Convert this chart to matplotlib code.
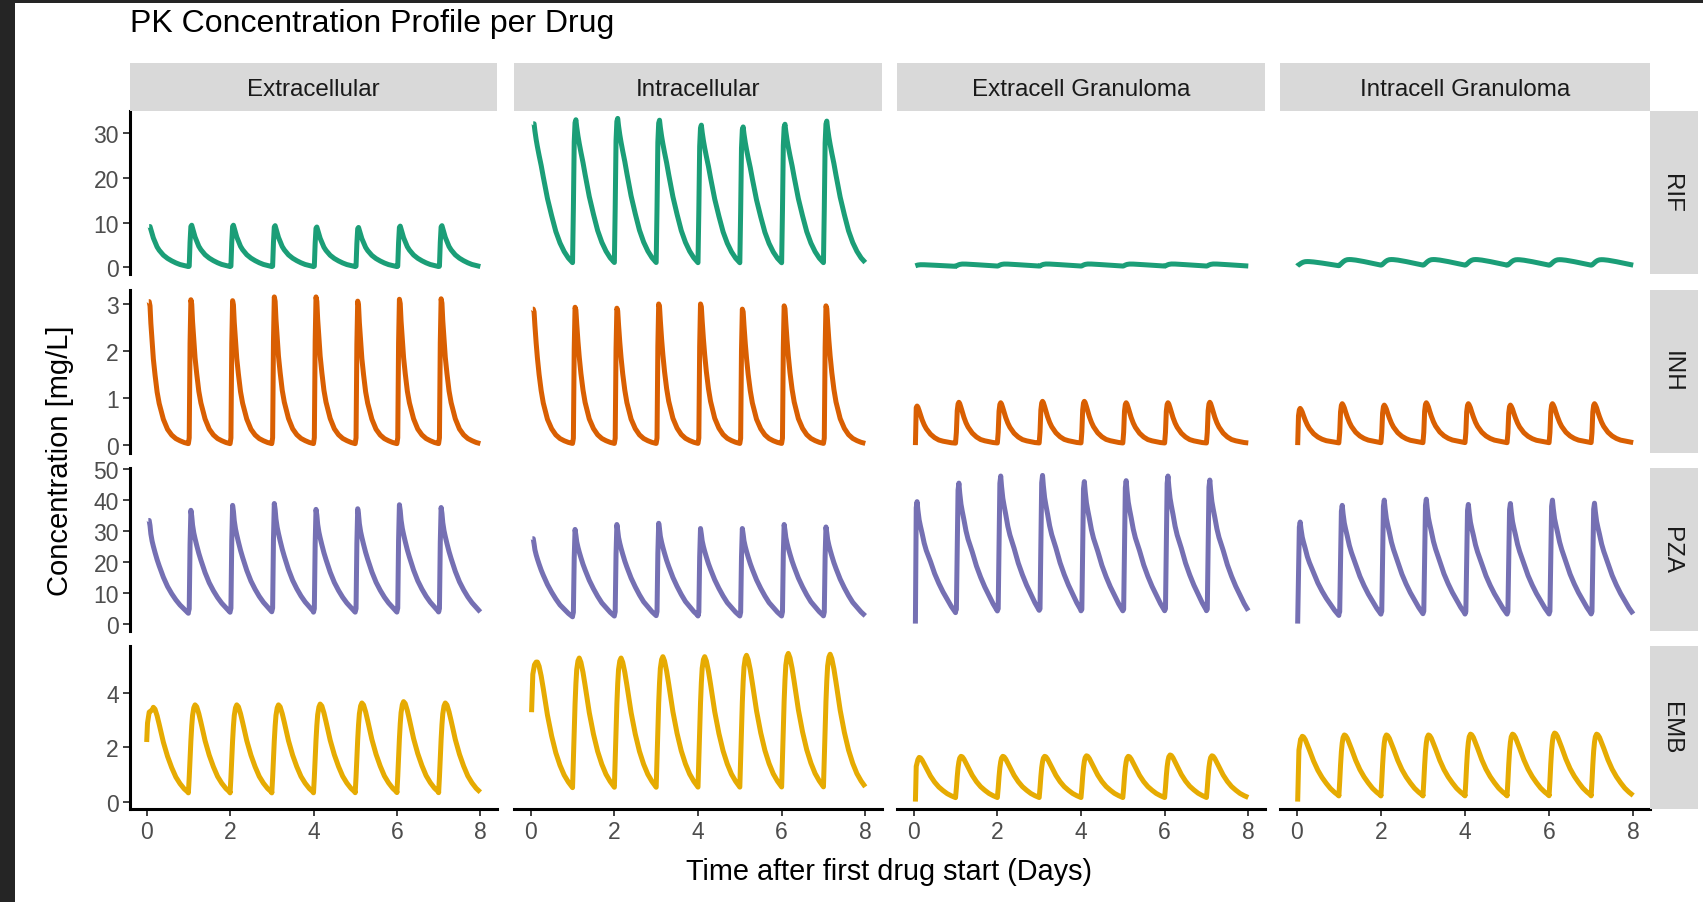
import matplotlib
matplotlib.use("Agg")
import matplotlib.pyplot as plt
from matplotlib.patches import Rectangle

plt.rcParams["font.family"] = ["Liberation Sans", "DejaVu Sans"]

DRUGS = ["RIF", "INH", "PZA", "EMB"]
COMPARTMENTS = ["Extracellular", "Intracellular", "Extracell Granuloma", "Intracell Granuloma"]
COLORS = ["#1B9E77", "#D95F02", "#7570B3", "#E6AB02"]
YTICKS = [[0, 10, 20, 30], [0, 1, 2, 3], [0, 10, 20, 30, 40, 50], [0, 2, 4]]
XTICKS = [0, 2, 4, 6, 8]

# days after each daily dose at which the profile is read
TAU = [0.00, 0.02, 0.04, 0.06, 0.08, 0.10, 0.13, 0.16, 0.20, 0.25, 0.30,
       0.40, 0.50, 0.60, 0.70, 0.80, 0.90, 1.00]

# profile within one dosing day, as fraction of that dose's peak (one row per compartment)
RIF_SHAPE = [
    [0.02, 0.03, 0.60, 0.97, 1.00, 0.93, 0.82, 0.72, 0.62, 0.50, 0.42, 0.30, 0.22, 0.16, 0.11, 0.07, 0.045, 0.02],
    [0.033, 0.40, 0.85, 0.98, 1.00, 0.95, 0.89, 0.84, 0.78, 0.71, 0.63, 0.48, 0.36, 0.25, 0.17, 0.11, 0.065, 0.033],
    [0.40, 0.45, 0.58, 0.70, 0.80, 0.88, 0.95, 0.99, 1.00, 0.98, 0.95, 0.88, 0.80, 0.72, 0.64, 0.56, 0.48, 0.40],
    [0.29, 0.32, 0.40, 0.50, 0.60, 0.70, 0.82, 0.91, 0.98, 1.00, 0.99, 0.93, 0.84, 0.74, 0.63, 0.52, 0.40, 0.29],
]
INH_SHAPE = [
    [0.01, 0.05, 0.70, 1.00, 0.97, 0.85, 0.72, 0.60, 0.49, 0.37, 0.29, 0.18, 0.11, 0.07, 0.045, 0.03, 0.018, 0.01],
    [0.012, 0.05, 0.70, 1.00, 0.98, 0.88, 0.75, 0.64, 0.52, 0.40, 0.31, 0.19, 0.12, 0.075, 0.048, 0.032, 0.02, 0.012],
    [0.05, 0.30, 0.80, 0.96, 1.00, 0.97, 0.88, 0.78, 0.65, 0.52, 0.42, 0.28, 0.19, 0.13, 0.10, 0.08, 0.06, 0.05],
    [0.06, 0.30, 0.80, 0.96, 1.00, 0.97, 0.90, 0.80, 0.68, 0.55, 0.45, 0.31, 0.22, 0.16, 0.12, 0.10, 0.08, 0.06],
]
PZA_SHAPE = [
    [0.10, 0.13, 0.70, 1.00, 0.95, 0.87, 0.80, 0.75, 0.69, 0.62, 0.56, 0.45, 0.36, 0.29, 0.23, 0.18, 0.14, 0.10],
    [0.08, 0.12, 0.70, 1.00, 0.94, 0.87, 0.81, 0.76, 0.70, 0.63, 0.57, 0.46, 0.37, 0.29, 0.22, 0.17, 0.12, 0.08],
    [0.09, 0.10, 0.50, 0.95, 1.00, 0.93, 0.85, 0.80, 0.74, 0.66, 0.60, 0.51, 0.41, 0.33, 0.26, 0.20, 0.14, 0.09],
    [0.08, 0.10, 0.50, 0.95, 1.00, 0.93, 0.85, 0.80, 0.74, 0.66, 0.60, 0.50, 0.40, 0.32, 0.25, 0.19, 0.13, 0.08],
]
EMB_SHAPE = [
    [0.09, 0.25, 0.45, 0.63, 0.78, 0.89, 0.97, 1.00, 0.98, 0.91, 0.82, 0.63, 0.48, 0.36, 0.26, 0.19, 0.135, 0.095],
    [0.10, 0.30, 0.50, 0.68, 0.82, 0.92, 0.98, 1.00, 0.97, 0.90, 0.81, 0.62, 0.47, 0.35, 0.26, 0.19, 0.14, 0.10],
    [0.09, 0.30, 0.55, 0.75, 0.88, 0.96, 1.00, 0.99, 0.94, 0.85, 0.76, 0.58, 0.44, 0.33, 0.25, 0.18, 0.13, 0.09],
    [0.085, 0.30, 0.55, 0.75, 0.88, 0.96, 1.00, 0.99, 0.95, 0.87, 0.79, 0.62, 0.48, 0.37, 0.28, 0.20, 0.14, 0.09],
]

# peak concentration (mg/L) of each of the 8 daily doses
RIF_PEAKS = [
    [9.1, 9.4, 9.4, 9.3, 9.0, 8.9, 9.2, 9.3],
    [32.0, 32.9, 33.2, 32.8, 31.7, 31.3, 31.9, 32.6],
    [0.60, 0.75, 0.75, 0.76, 0.76, 0.75, 0.76, 0.76],
    [1.30, 1.75, 1.75, 1.75, 1.75, 1.72, 1.72, 1.72],
]
INH_PEAKS = [
    [3.05, 3.09, 3.07, 3.15, 3.15, 3.06, 3.10, 3.11],
    [2.89, 2.93, 2.91, 3.00, 3.00, 2.89, 2.96, 2.96],
    [0.83, 0.91, 0.90, 0.93, 0.93, 0.90, 0.90, 0.91],
    [0.78, 0.88, 0.85, 0.90, 0.88, 0.85, 0.88, 0.88],
]
PZA_PEAKS = [
    [33.4, 36.7, 38.3, 38.9, 37.0, 37.2, 38.5, 37.6],
    [27.5, 30.5, 32.1, 32.5, 30.8, 30.8, 32.1, 31.3],
    [39.5, 45.5, 47.8, 48.0, 46.0, 46.3, 47.8, 46.5],
    [32.9, 38.3, 40.0, 40.3, 38.6, 38.9, 40.0, 39.0],
]
EMB_PEAKS = [
    [3.48, 3.57, 3.57, 3.57, 3.60, 3.64, 3.69, 3.64],
    [5.15, 5.30, 5.30, 5.35, 5.35, 5.40, 5.47, 5.44],
    [1.63, 1.67, 1.67, 1.67, 1.69, 1.67, 1.72, 1.69],
    [2.41, 2.46, 2.46, 2.46, 2.49, 2.49, 2.53, 2.49],
]

# first-dose start of each curve: (day, mg/L) points before the first profile continues
RIF_HEAD = [[(0.06, 9.1)], [(0.06, 32.0)], [(0.04, 0.35)], [(0.01, 0.30)]]
INH_HEAD = [[(0.05, 3.05)], [(0.05, 2.89)], [(0.04, 0.0)], [(0.02, 0.0)]]
PZA_HEAD = [[(0.04, 33.4)], [(0.04, 27.5)], [(0.04, 0.0)], [(0.02, 0.0)]]
EMB_HEAD = [
    [(0.00, 2.2), (0.02, 2.9), (0.06, 3.3), (0.10, 3.35)],
    [(0.02, 3.3), (0.05, 4.7), (0.09, 5.05), (0.13, 5.15)],
    [(0.04, 0.0), (0.06, 1.3), (0.10, 1.55)],
    [(0.02, 0.0), (0.05, 1.9), (0.09, 2.3)],
]

SHAPES = [RIF_SHAPE, INH_SHAPE, PZA_SHAPE, EMB_SHAPE]
PEAKS = [RIF_PEAKS, INH_PEAKS, PZA_PEAKS, EMB_PEAKS]
HEADS = [RIF_HEAD, INH_HEAD, PZA_HEAD, EMB_HEAD]


def build_curve(shape, peaks, head):
    t, c = [], []
    for k, pk in enumerate(peaks):
        t_from = -1.0
        if k == 0:
            for ht, hv in head:
                t.append(ht)
                c.append(hv)
            t_from = head[-1][0]
        for tau, f in zip(TAU, shape):
            if tau > t_from:
                t.append(k + tau)
                c.append(f * pk)
    return t, c


W, H = 1703, 903
fig = plt.figure(figsize=(W / 100, H / 100), dpi=100)

COL_X = [(130, 497), (514, 882), (897, 1265), (1280, 1650)]
ROW_Y = [(112, 275), (290.5, 453.5), (469, 632), (647, 810)]
STRIP_TOP = (63.5, 111.5)
STRIP_RIGHT = (1650, 1698)
STRIP_BG = "#D9D9D9"
STRIP_FS = 17.4


def fx(px):
    return px / W


def fy(py):
    return 1 - py / H


curves = [[build_curve(SHAPES[r][c], PEAKS[r][c], HEADS[r][c]) for c in range(4)] for r in range(4)]
all_t = [v for row in curves for (t, _) in row for v in t]
t_lo, t_hi = min(all_t), max(all_t)
xpad = 0.05 * (t_hi - t_lo)

for r in range(4):
    vals = [v for (_, cc) in curves[r] for v in cc]
    lo, hi = min(vals), max(vals)
    ypad = 0.05 * (hi - lo)
    y0, y1 = ROW_Y[r]
    for c in range(4):
        x0, x1 = COL_X[c]
        ax = fig.add_axes([fx(x0), fy(y1), fx(x1 - x0), (y1 - y0) / H])
        t, cc = curves[r][c]
        ax.plot(t, cc, color=COLORS[r], lw=3.6, solid_capstyle="butt", solid_joinstyle="round")
        ax.set_xlim(t_lo - xpad, t_hi + xpad)
        ax.set_ylim(lo - ypad, hi + ypad)
        for s in ["top", "right"]:
            ax.spines[s].set_visible(False)
        ax.spines["left"].set_visible(c == 0)
        ax.spines["bottom"].set_visible(r == 3)
        ax.spines["left"].set_linewidth(2.2)
        ax.spines["bottom"].set_linewidth(2.2)
        ax.tick_params(length=5, width=1.3, color="#333333", labelsize=16.5,
                       labelcolor="#4D4D4D", pad=3)
        if c == 0:
            ax.set_yticks(YTICKS[r])
        else:
            ax.set_yticks([])
        if r == 3:
            ax.set_xticks(XTICKS)
        else:
            ax.set_xticks([])
        ax.patch.set_alpha(0)

# half the cap height of the strip font, in pixels
cap_half = 0.36 * STRIP_FS * 100 / 72

# column strips
for c in range(4):
    x0, x1 = COL_X[c]
    fig.add_artist(Rectangle((fx(x0), fy(STRIP_TOP[1])), fx(x1 - x0), (STRIP_TOP[1] - STRIP_TOP[0]) / H,
                             transform=fig.transFigure, facecolor=STRIP_BG, edgecolor="none"))
    fig.text(fx((x0 + x1) / 2), fy(sum(STRIP_TOP) / 2 + cap_half), COMPARTMENTS[c],
             ha="center", va="baseline", fontsize=STRIP_FS, color="#1A1A1A")

# row strips
for r in range(4):
    y0, y1 = ROW_Y[r]
    fig.add_artist(Rectangle((fx(STRIP_RIGHT[0]), fy(y1)), fx(STRIP_RIGHT[1] - STRIP_RIGHT[0]), (y1 - y0) / H,
                             transform=fig.transFigure, facecolor=STRIP_BG, edgecolor="none"))
    fig.text(fx(sum(STRIP_RIGHT) / 2 - cap_half), fy((y0 + y1) / 2), DRUGS[r], ha="center", va="baseline",
             rotation=-90, rotation_mode="anchor", fontsize=STRIP_FS, color="#1A1A1A")

fig.text(fx(130), fy(32), "PK Concentration Profile per Drug", ha="left", va="baseline",
         fontsize=23, color="black")
fig.text(fx(889.5), fy(872), "Time after first drug start (Days)", ha="center", va="center",
         fontsize=20.8, color="black")
fig.text(fx(60.5), fy(461), "Concentration [mg/L]", ha="center", va="center", rotation=90,
         fontsize=21, color="black")

# dark screenshot frame on the top and left edges
fig.add_artist(Rectangle((0, 0), fx(15), 1, transform=fig.transFigure, facecolor="#252525", edgecolor="none"))
fig.add_artist(Rectangle((0, fy(4.3)), 1, 4.3 / H, transform=fig.transFigure, facecolor="#252525", edgecolor="none"))

fig.savefig("out.png", dpi=100, facecolor="white")
